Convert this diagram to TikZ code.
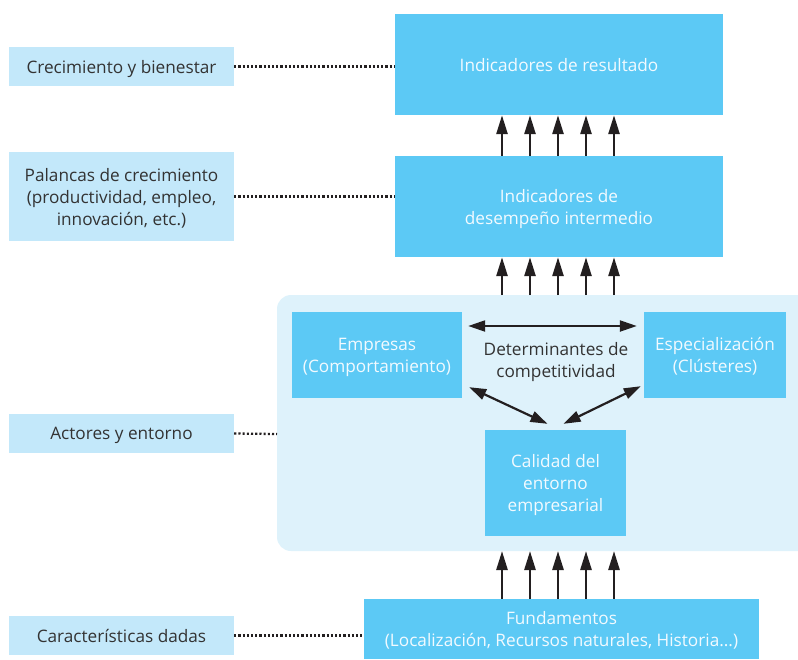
\documentclass[tikz,border=0pt]{standalone}
\usepackage{fontspec}
\setmainfont{Open Sans}
\usetikzlibrary{arrows.meta,calc}
\definecolor{boxblue}{HTML}{5CC9F5}
\definecolor{labelblue}{HTML}{C3E8FA}
\definecolor{panelblue}{HTML}{DEF2FB}
\definecolor{inktext}{HTML}{333333}
\definecolor{arrowink}{HTML}{231F20}
\definecolor{boxtext}{HTML}{F2FAFF}
\begin{document}
\begin{tikzpicture}[x=1pt,y=-1pt,
  font=\fontsize{17.2}{22}\selectfont,
  levelbox/.style={fill=labelblue,text=inktext,align=center,inner sep=0pt,
    minimum width=225pt,text depth=-3pt},
  mainbox/.style={fill=boxblue,text=boxtext,align=center,inner sep=0pt,
    text depth=-3pt},
  dotline/.style={line width=2.3pt,dash pattern=on 2.1pt off 2.1pt,draw=arrowink},
  uparrow/.style={line width=2.6pt,draw=arrowink,
    -{Triangle[length=19pt,width=11pt]}},
  twoway/.style={line width=2.2pt,draw=arrowink,
    {Triangle[length=17pt,width=11pt]}-{Triangle[length=17pt,width=11pt]}}]
\useasboundingbox (0,0) rectangle (798,659);

% background panel of the actors level
\fill[panelblue,rounded corners=14pt] (277,295) rectangle (830,551);
\coordinate (paneltop) at (560,295);
\coordinate (panelbot) at (560,551);
\coordinate (panelleft) at (277,434);

% level labels on the left
\node[levelbox,minimum height=39pt] (lv1) at (121.5,66.5) {Crecimiento y bienestar};
\node[levelbox,minimum height=89pt] (lv2) at (121.5,196.5)
  {Palancas de crecimiento\\(productividad, empleo,\\innovación, etc.)};
\node[levelbox,minimum height=39pt] (lv3) at (121.5,433.5) {Actores y entorno};
\node[levelbox,minimum height=39pt] (lv4) at (121.5,635.5) {Características dadas};

% main boxes
\node[mainbox,minimum width=328pt,minimum height=101pt] (res) at (559,64.5)
  {Indicadores de resultado};
\node[mainbox,minimum width=328pt,minimum height=101pt] (des) at (559,206.5)
  {Indicadores de\\desempeño intermedio};
\node[mainbox,minimum width=170pt,minimum height=86pt] (emp) at (377,355)
  {Empresas\\(Comportamiento)};
\node[mainbox,minimum width=142pt,minimum height=86pt] (esp) at (715,355)
  {Especialización\\(Clústeres)};
\node[mainbox,minimum width=141pt,minimum height=106pt] (cal) at (555.5,483)
  {Calidad del\\entorno\\empresarial};
\node[mainbox,minimum width=395pt,minimum height=60pt] (fun) at (561.5,629)
  {Fundamentos\\(Localización, Recursos naturales, Historia...)};
\node[text=inktext,align=center,inner sep=0pt] (det) at (556,362)
  {Determinantes de\\competitividad};

% dotted leaders from the labels
\draw[dotline] (lv1.east) -- (lv1.east -| res.west);
\draw[dotline] (lv2.east) -- (lv2.east -| des.west);
\draw[dotline] (lv3.east) -- (panelleft);
\draw[dotline] (lv4.east) -- (lv4.east -| fun.west);

% rows of upward arrows
\foreach \x in {502,530,558,586,614}{
  \draw[uparrow] (\x,0 |- des.north) -- (\x,0 |- res.south);
  \draw[uparrow] (\x,0 |- paneltop) -- (\x,0 |- des.south);
  \draw[uparrow] (\x,0 |- fun.north) -- (\x,0 |- panelbot);
}

% mutual influences among the determinants
\draw[twoway] ($(emp.east)+(6,-29)$) -- ($(esp.west)+(-7,-29)$);
\draw[twoway] ($(emp.south east)+(7,-11)$) -- ($(cal.north)+(-8,-6)$);
\draw[twoway] ($(esp.south west)+(-3,-12)$) -- ($(cal.north)+(8,-6)$);
\end{tikzpicture}
\end{document}
